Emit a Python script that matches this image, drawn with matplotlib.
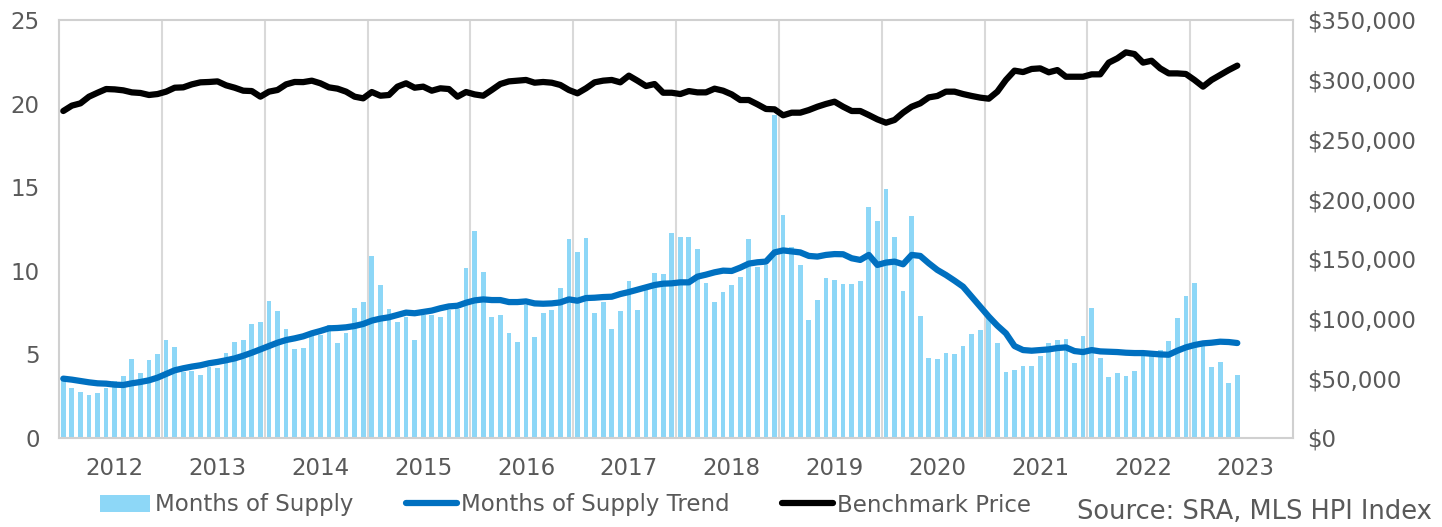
import numpy as np
import matplotlib
matplotlib.use('Agg')
import matplotlib.pyplot as plt
from matplotlib.ticker import FuncFormatter

# monthly data, Jul 2011 - Dec 2022
supply = [3.4, 3.0, 2.77, 2.57, 2.71, 2.97, 3.41, 3.69, 4.72, 3.91, 4.68, 5.04,
          5.86, 5.46, 3.97, 4.0, 3.77, 4.27, 4.21, 5.06, 5.76, 5.86, 6.8, 6.96,
          8.19, 7.58, 6.52, 5.3, 5.38, 6.42, 6.16, 6.74, 5.66, 6.3, 7.8, 8.13,
          10.89, 9.13, 7.72, 6.96, 7.26, 5.86, 7.36, 7.36, 7.26, 7.66, 7.7, 10.15,
          12.38, 9.95, 7.26, 7.38, 6.3, 5.76, 7.95, 6.06, 7.46, 7.66, 8.97, 11.88,
          11.14, 11.96, 7.5, 8.13, 6.54, 7.6, 9.41, 7.66, 8.85, 9.85, 9.81, 12.28,
          12.04, 12.04, 11.3, 9.25, 8.13, 8.73, 9.17, 9.65, 11.92, 10.25, 10.35, 19.32,
          13.34, 11.4, 10.33, 7.06, 8.25, 9.59, 9.45, 9.21, 9.21, 9.41, 13.84, 12.98,
          14.91, 12.02, 8.79, 13.28, 7.3, 4.8, 4.72, 5.06, 5.04, 5.48, 6.22, 6.44,
          7.2, 5.66, 3.97, 4.05, 4.31, 4.33, 4.9, 5.66, 5.84, 5.92, 4.51, 6.1,
          7.8, 4.8, 3.67, 3.89, 3.69, 4.03, 4.96, 4.96, 5.26, 5.82, 7.2, 8.49,
          9.25, 5.56, 4.25, 4.55, 3.31, 3.79]

trend = [3.55, 3.49, 3.41, 3.33, 3.27, 3.25, 3.19, 3.17, 3.27, 3.35, 3.45, 3.61,
         3.83, 4.05, 4.17, 4.27, 4.35, 4.47, 4.55, 4.65, 4.76, 4.92, 5.1, 5.3,
         5.5, 5.7, 5.86, 5.96, 6.08, 6.26, 6.4, 6.56, 6.58, 6.62, 6.7, 6.82,
         7.02, 7.14, 7.22, 7.36, 7.5, 7.46, 7.54, 7.62, 7.76, 7.87, 7.91, 8.09,
         8.23, 8.29, 8.25, 8.25, 8.13, 8.13, 8.17, 8.05, 8.03, 8.05, 8.11, 8.29,
         8.21, 8.37, 8.39, 8.43, 8.45, 8.61, 8.73, 8.87, 9.01, 9.15, 9.23, 9.25,
         9.31, 9.31, 9.65, 9.77, 9.91, 10.01, 9.99, 10.19, 10.43, 10.51, 10.55, 11.1,
         11.22, 11.16, 11.1, 10.89, 10.85, 10.95, 11.0, 10.99, 10.75, 10.65, 10.95, 10.35,
         10.49, 10.55, 10.39, 10.95, 10.89, 10.45, 10.05, 9.75, 9.41, 9.05, 8.45, 7.85,
         7.26, 6.72, 6.26, 5.5, 5.26, 5.22, 5.26, 5.3, 5.38, 5.42, 5.2, 5.14,
         5.26, 5.18, 5.16, 5.14, 5.1, 5.08, 5.08, 5.04, 5.0, 4.98, 5.22, 5.42,
         5.56, 5.66, 5.7, 5.76, 5.74, 5.68]

price = [273800, 278300, 280200, 285800, 289100, 292200, 291900, 291100, 289400, 288900, 287200, 288000,
         290000, 293300, 293600, 296100, 297800, 298100, 298600, 295300, 293300, 290800, 290500, 285800,
         290000, 291400, 296100, 298100, 298000, 299200, 297000, 293600, 292500, 290000, 285800, 284400,
         289700, 286600, 287200, 294200, 297000, 293300, 294200, 290800, 292800, 292200, 285800, 289700,
         287700, 286600, 291400, 296400, 298600, 299200, 299800, 297500, 298100, 297500, 295600, 291400,
         288600, 292800, 297800, 299200, 299800, 297800, 303400, 299200, 294700, 296400, 289100, 289100,
         288000, 290500, 289400, 289400, 292500, 290800, 287700, 283000, 283000, 279400, 275500, 275200,
         270200, 272400, 272400, 274600, 277400, 279700, 281600, 277400, 273800, 273800, 270400, 266800,
         264000, 266300, 272400, 277400, 280200, 285200, 286400, 290000, 290000, 288000, 286400, 285000,
         284100, 290000, 299800, 307600, 306400, 309000, 309500, 306200, 308100, 302500, 302500, 302500,
         304500, 304500, 314300, 317900, 322900, 321500, 314300, 315900, 309500, 305300, 305300, 304800,
         299800, 294200, 299800, 303900, 308100, 311800]

years = ['2012', '2013', '2014', '2015', '2016', '2017', '2018', '2019', '2020', '2021', '2022', '2023']

txt = '#595959'
fs = 16.5
W, H = 1442, 527
fig = plt.figure(figsize=(W / 100, H / 100), dpi=100)
ax = fig.add_axes([59 / W, 1 - 438 / H, (1293 - 59) / W, (438 - 20) / H])

x = np.arange(len(supply))
bars = ax.bar(x, supply, width=0.55, color='#8DD7F7', zorder=2)
ln1, = ax.plot(x, trend, color='#0070C0', lw=4.5, zorder=3,
               solid_joinstyle='round', solid_capstyle='round')

ax.set_xlim(-0.5, 143.5)
ax.set_ylim(0, 25)
ax.set_yticks(range(0, 26, 5))
for g in np.arange(11.5, 143, 12):
    ax.axvline(g, color='#D9D9D9', lw=1.5, zorder=1)
ax.set_xticks(np.arange(6, 144, 12))
ax.set_xticklabels(years)
ax.tick_params(axis='x', length=0, labelsize=fs, colors=txt, pad=14)
ax.tick_params(axis='y', length=0, labelsize=fs, colors=txt, pad=14)
for s in ax.spines.values():
    s.set_color('#D0D0D0')
    s.set_linewidth(1.5)

ax2 = ax.twinx()
ln2, = ax2.plot(x, price, color='black', lw=4.5,
                solid_joinstyle='round', solid_capstyle='round')
ax2.set_ylim(0, 350000)
ax2.set_yticks(range(0, 350001, 50000))
ax2.yaxis.set_major_formatter(FuncFormatter(lambda v, p: '${:,.0f}'.format(v)))
ax2.tick_params(axis='y', length=0, labelsize=fs, colors=txt, pad=10)
for s in ax2.spines.values():
    s.set_visible(False)

leg = fig.legend([bars, ln1, ln2], ['Months of Supply', 'Months of Supply Trend', 'Benchmark Price'],
                 loc='center left', bbox_to_anchor=(100 / W, 1 - 505 / H), ncol=3, frameon=False,
                 fontsize=fs, handlelength=2.2, handletextpad=0.2, columnspacing=2.3,
                 borderaxespad=0, borderpad=0)
for t in leg.get_texts():
    t.set_color(txt)

fig.text(1432 / W, 1 - 512 / H, 'Source: SRA, MLS HPI Index', ha='right', va='center',
         fontsize=18.5, color=txt)

fig.savefig('out.png', dpi=100)
